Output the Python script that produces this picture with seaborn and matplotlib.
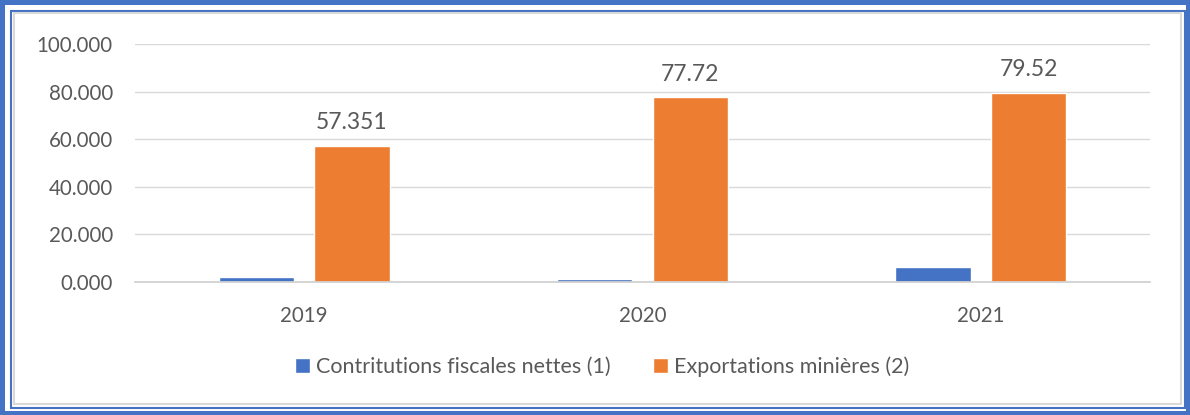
import pandas as pd
import seaborn as sns
import matplotlib.pyplot as plt
from matplotlib.patches import Rectangle

years = ["2019", "2020", "2021"]
contributions = [1.9, 1.3, 6.3]
exportations = [57.351, 77.72, 79.52]
export_labels = ["57.351", "77.72", "79.52"]
series_names = ["Contritutions fiscales nettes (1)", "Exportations minières (2)"]

BLUE = "#4472C4"
ORANGE = "#ED7D31"
GREY_TXT = "#595959"

df = pd.DataFrame({
    "year": years * 2,
    "value": contributions + exportations,
    "series": [series_names[0]] * 3 + [series_names[1]] * 3,
})

sns.set_theme(style="white")
plt.rcParams["font.family"] = ["Lato", "DejaVu Sans"]

W, H = 1190, 415
fig = plt.figure(figsize=(W / 100, H / 100), dpi=100)
ax = fig.add_axes([135 / W, 133 / H, 1015 / W, 238 / H])

sns.barplot(data=df, x="year", y="value", hue="series", palette=[BLUE, ORANGE],
            width=0.565, gap=0.21, ax=ax, legend=True, saturation=1)

ax.set_ylim(0, 100)
ax.set_xlim(-0.5, 2.5)
ax.set_yticks([0, 20, 40, 60, 80, 100])
ax.set_yticklabels([f"{v:.3f}" for v in [0, 20, 40, 60, 80, 100]])
ax.yaxis.grid(True, color="#d9d9d9", lw=1)
ax.set_axisbelow(True)
ax.set_xlabel("")
ax.set_ylabel("")
for s in ["top", "right", "left"]:
    ax.spines[s].set_visible(False)
ax.spines["bottom"].set_color("#d0d0d0")
ax.tick_params(axis="both", length=0, labelsize=14.8, labelcolor=GREY_TXT)
ax.tick_params(axis="x", pad=17)
ax.tick_params(axis="y", pad=16)

ax.bar_label(ax.containers[1], labels=export_labels, padding=9, fontsize=16.5, color=GREY_TXT)

handles, labels = ax.get_legend_handles_labels()
ax.get_legend().remove()
fig.legend(handles, labels, loc="center", bbox_to_anchor=(0.506, 48 / H), ncol=2,
           frameon=False, fontsize=15.5, labelcolor=GREY_TXT, handlelength=0.7,
           handleheight=0.7, handletextpad=0.25, columnspacing=2.0)

# frame around the chart
def frame(x0, y0, x1, y1, color, lw):
    fig.patches.append(Rectangle((x0 / W, (H - y1) / H), (x1 - x0) / W, (y1 - y0) / H,
                                 transform=fig.transFigure, fill=False, ec=color, lw=lw))

frame(0, 0, W, H, BLUE, 6.5)
frame(11, 11, 1185, 407.5, BLUE, 1.5)
frame(13.5, 13.5, 1181, 404, "#d9d9d9", 1.5)

fig.savefig("out.png", dpi=100)
